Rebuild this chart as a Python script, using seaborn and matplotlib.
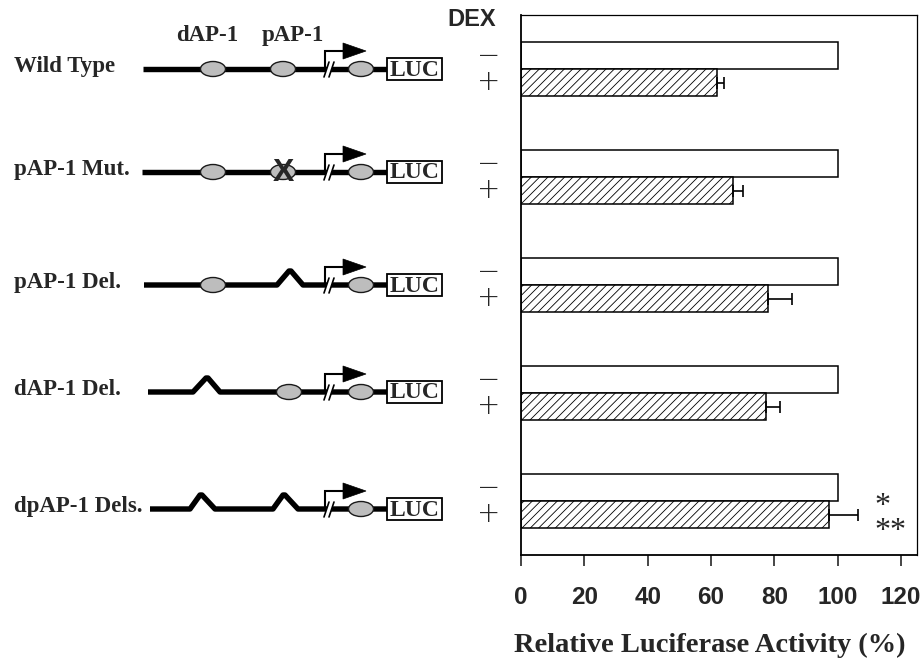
import numpy as np
import pandas as pd
import matplotlib
matplotlib.use("Agg")
import matplotlib.pyplot as plt
import matplotlib.transforms as mtransforms
from matplotlib.patches import Ellipse, Polygon, Rectangle
import seaborn as sns

# ---------------- data ----------------
constructs = ["Wild Type", "pAP-1 Mut.", "pAP-1 Del.", "dAP-1 Del.", "dpAP-1 Dels."]
dex_levels = ["\u2212", "+"]
minus_vals = [100, 100, 100, 100, 100]
plus_vals = [61.8, 66.8, 78.1, 77.3, 97.1]
plus_err = [2.4, 3.2, 7.4, 4.5, 9.3]
x_ticks = [0, 20, 40, 60, 80, 100, 120]
x_label = "Relative Luciferase Activity (%)"
site_labels = ["dAP-1", "pAP-1"]
signif_marks = "*\n**"

df = pd.DataFrame({
    "construct": constructs * 2,
    "dex": [dex_levels[0]] * 5 + [dex_levels[1]] * 5,
    "activity": minus_vals + plus_vals,
})

# ---------------- style ----------------
sns.set_style("white")
plt.rcParams["font.family"] = ["Liberation Serif", "DejaVu Sans"]
plt.rcParams["hatch.linewidth"] = 0.6
plt.rcParams["hatch.color"] = "black"

W, H = 923, 664
fig = plt.figure(figsize=(W / 100, H / 100), dpi=100)

# diagram layer (pixel coordinates)
axd = fig.add_axes([0, 0, 1, 1])
axd.set_xlim(0, W)
axd.set_ylim(H, 0)
axd.axis("off")

# bar axes
L, R, T, B = 521, 917, 15, 555
ax = fig.add_axes([L / W, 1 - B / H, (R - L) / W, (B - T) / H])
sns.barplot(data=df, y="construct", x="activity", hue="dex", hue_order=dex_levels,
            order=constructs, orient="h", width=0.5, gap=0, errorbar=None,
            palette=["white", "white"], edgecolor="black", linewidth=1.1,
            legend=False, ax=ax)
bar_containers = list(ax.containers[:2])
for bar in bar_containers[1]:
    bar.set_hatch("////")

ax.set_xlim(0, 125)
ax.set_ylim(len(constructs) - 0.5, -0.5)

# error bars (positive side only)
plus_y = [b.get_y() + b.get_height() / 2 for b in bar_containers[1]]
ax.errorbar(plus_vals, plus_y, xerr=[np.zeros(len(plus_err)), plus_err], fmt="none",
            ecolor="black", elinewidth=1.2, capsize=4.3, capthick=1.2, zorder=5)

# axes styling
for side in ["left", "bottom"]:
    ax.spines[side].set_linewidth(1.3)
for side in ["top", "right"]:
    ax.spines[side].set_linewidth(0.9)
for s in ax.spines.values():
    s.set_color("black")
    s.set_visible(True)
ax.set_xticks(x_ticks)
ax.set_xticklabels([str(t) for t in x_ticks], fontfamily="Liberation Sans",
                   fontweight="bold", fontsize=17.5)
ax.tick_params(axis="x", direction="out", length=8, width=1.2, pad=14, bottom=True)
ax.set_yticks([])
ax.set_ylabel("")
ax.set_xlabel(x_label, fontfamily="Liberation Serif", fontweight="bold", fontsize=20.5)
ax.xaxis.set_label_coords(0.477, -0.145)

# +/- labels for each bar
blend = mtransforms.blended_transform_factory(ax.transAxes, ax.transData)
for k, cont in enumerate(bar_containers):
    for b in cont:
        ax.text(-0.081, b.get_y() + b.get_height() / 2, dex_levels[k], transform=blend,
                ha="center", va="center", fontsize=20, fontfamily="DejaVu Sans",
                fontweight="light", clip_on=False)

# significance asterisks
ax.text(111.5, 4.17, signif_marks, ha="left", va="center", multialignment="left",
        fontsize=23, linespacing=0.82, fontfamily="Liberation Serif")

fig.text(472 / W, 1 - 19 / H, "DEX", ha="center", va="center",
         fontfamily="Liberation Sans", fontweight="bold", fontsize=17)

# ---------------- promoter diagrams ----------------
fig.canvas.draw()
def row_pix(i):
    return H - ax.transData.transform((0, i))[1]

row_offsets = [0, -5, 0, -1, 8]
rows = [
    dict(start=143, ovals=[213, 283], bumps=[], mut=None),
    dict(start=142, ovals=[213, 283], bumps=[], mut=283),
    dict(start=144, ovals=[213], bumps=[(277, 290, 303)], mut=None),
    dict(start=148, ovals=[289], bumps=[(193, 207, 220)], mut=None),
    dict(start=150, ovals=[], bumps=[(190, 201, 215), (273, 284, 298)], mut=None),
]
box_l, box_r = 387, 442
lw_dna = 3.9
for i, (name, r) in enumerate(zip(constructs, rows)):
    y = row_pix(i) + row_offsets[i]
    axd.text(14, y + 3, name, ha="left", va="baseline", fontsize=16.5,
             fontweight="bold", fontfamily="Liberation Serif")
    # DNA line with bumps
    xs, ys = [r["start"]], [y]
    for (b0, bp, b1) in r["bumps"]:
        xs += [b0, bp - 1, bp + 1, b1]
        ys += [y, y - 14, y - 14, y]
    xs.append(box_l)
    ys.append(y)
    axd.plot(xs, ys, color="black", lw=lw_dna, solid_joinstyle="round",
             solid_capstyle="butt", zorder=2)
    # AP-1 sites
    for ox in r["ovals"] + [361]:
        axd.add_patch(Ellipse((ox, y), 25, 15, facecolor="#bdbdbd", edgecolor="#1a1a1a",
                              lw=1.0, zorder=3))
    if r["mut"] is not None:
        axd.text(r["mut"], y + 1, "X", ha="center", va="center", fontsize=23,
                 fontweight="bold", fontfamily="Liberation Sans", zorder=4)
    # break mark
    axd.add_patch(Polygon([(324, y + 8), (329, y - 7), (334, y - 7), (329, y + 8)],
                          closed=True, facecolor="white", edgecolor="none", zorder=3))
    axd.plot([324, 329], [y + 8, y - 7], color="black", lw=1.2, zorder=4)
    axd.plot([329, 334], [y + 8, y - 7], color="black", lw=1.2, zorder=4)
    # transcription start arrow
    axd.plot([325, 325, 344], [y, y - 18, y - 18], color="black", lw=1.5,
             solid_joinstyle="miter", zorder=4)
    axd.add_patch(Polygon([(343, y - 26), (366, y - 18), (343, y - 10)], closed=True,
                          facecolor="black", edgecolor="black", lw=0.5, zorder=4))
    # LUC box
    axd.add_patch(Rectangle((box_l, y - 11), box_r - box_l, 22, facecolor="white",
                            edgecolor="black", lw=1.3, zorder=3))
    axd.text((box_l + box_r) / 2, y + 1, "LUC", ha="center", va="center", fontsize=17,
             fontweight="bold", fontfamily="Liberation Serif", zorder=4)

y0 = row_pix(0)
axd.text(207, y0 - 28, site_labels[0], ha="center", va="baseline", fontsize=16.5,
         fontweight="bold", fontfamily="Liberation Serif")
axd.text(293, y0 - 28, site_labels[1], ha="center", va="baseline", fontsize=16.5,
         fontweight="bold", fontfamily="Liberation Serif")

fig.savefig("out.png", dpi=100)
